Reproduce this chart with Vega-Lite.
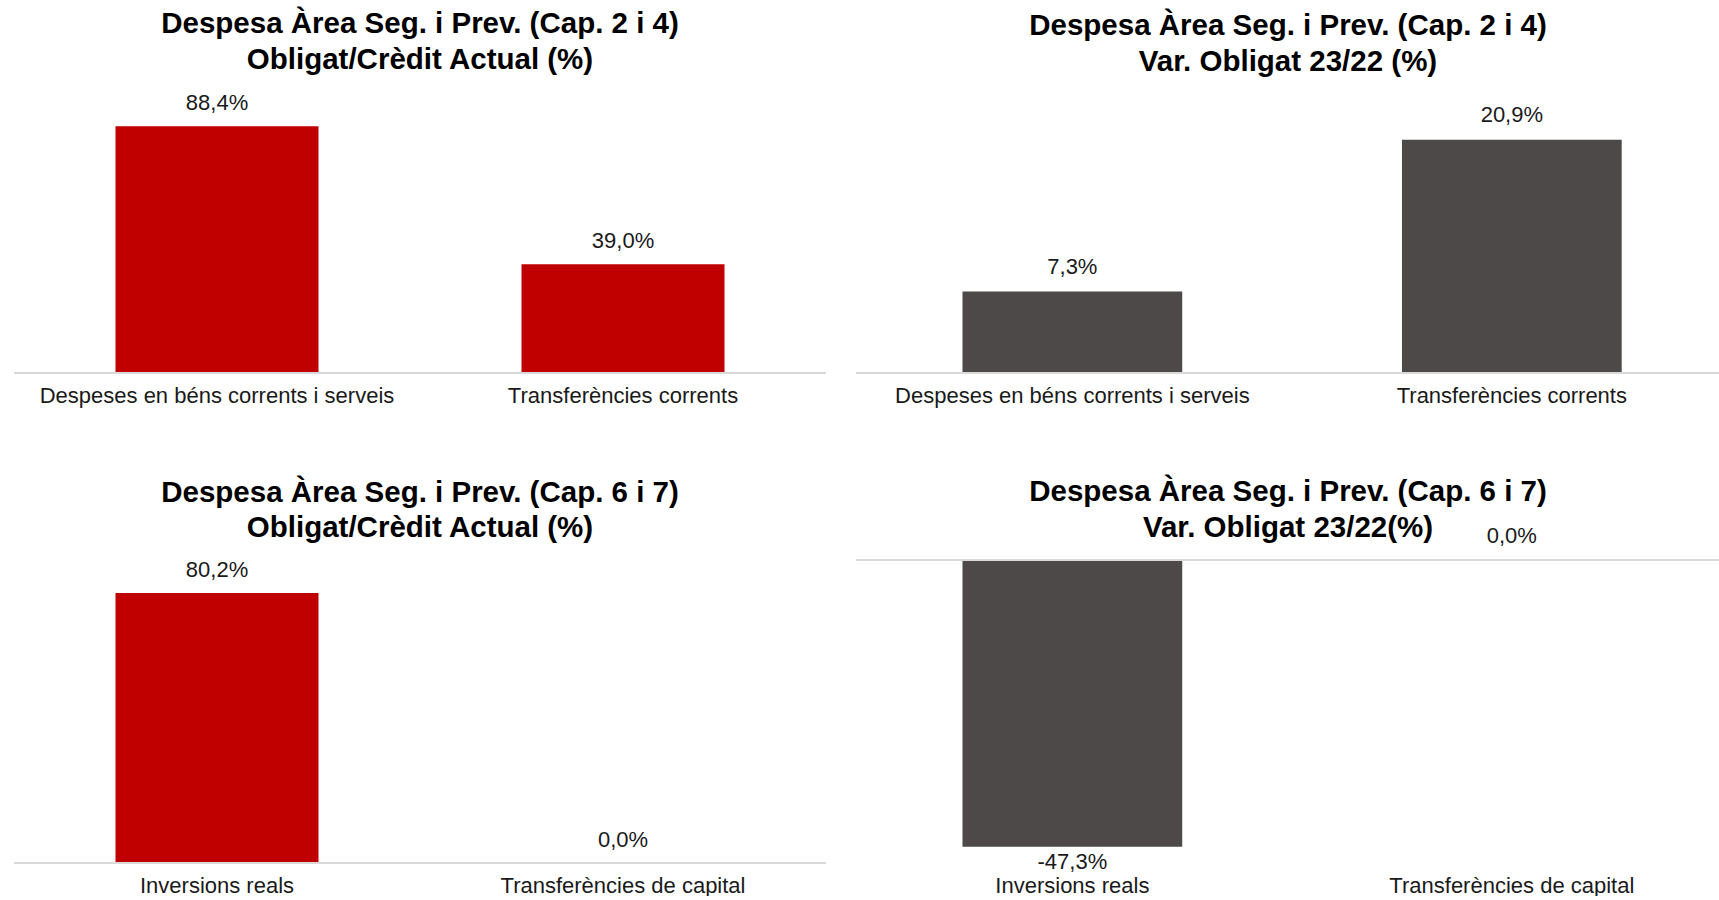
{
  "$schema": "https://vega.github.io/schema/vega-lite/v6.json",
  "background": "white",
  "padding": {"left": 13, "top": 9, "right": 0, "bottom": 0},
  "config": {
    "font": "Liberation Sans",
    "view": {"stroke": null},
    "locale": {"number": {"decimal": ",", "thousands": ".", "grouping": [3], "currency": ["", " €"], "minus": "-", "percent": "%"}},
    "title": {"font": "Liberation Sans", "fontSize": 29.5, "fontWeight": "bold", "color": "#000000", "lineHeight": 35.5, "anchor": "middle", "frame": "group"},
    "axisX": {"domain": false, "ticks": false, "grid": false, "labelAngle": 0, "labelFontSize": 22, "labelColor": "#1a1a1a", "labelPadding": 12, "labelLimit": 0, "title": null, "labelFont": "Liberation Sans"}
  },
  "columns": 2,
  "bounds": "flush",
  "align": "each",
  "spacing": {"column": 30, "row": 187},
  "concat": [
    {
      "width": 812,
      "height": 279,
      "title": {"text": ["Despesa Àrea Seg. i Prev. (Cap. 2 i 4)", "Obligat/Crèdit Actual (%)"], "offset": 17},
      "data": {"values": [
        {"categoria": "Despeses en béns corrents i serveis", "valor": 0.884},
        {"categoria": "Transferències corrents", "valor": 0.390}
      ]},
      "encoding": {
        "y": {"field": "valor", "type": "quantitative", "scale": {"domain": [0, 1]}, "axis": null}
      },
      "layer": [
        {"mark": {"type": "bar", "color": "#C00000"},
         "encoding": {"x": {"field": "categoria", "type": "nominal", "sort": null, "scale": {"paddingInner": 0.5, "paddingOuter": 0.25}}}},
        {"mark": {"type": "text", "baseline": "middle", "dy": -23, "fontSize": 22, "color": "#1a1a1a"},
         "encoding": {"x": {"field": "categoria", "type": "nominal", "sort": null}, "text": {"field": "valor", "type": "quantitative", "format": ".1%"}}},
        {"mark": {"type": "rule", "color": "#D9D9D9", "strokeWidth": 2},
         "encoding": {"y": {"datum": 0}}}
      ]
    },
    {
      "width": 864,
      "height": 279,
      "title": {"text": ["Despesa Àrea Seg. i Prev.  (Cap. 2 i 4)", "Var. Obligat 23/22 (%)"], "offset": 17},
      "data": {"values": [
        {"categoria": "Despeses en béns corrents i serveis", "valor": 0.073},
        {"categoria": "Transferències corrents", "valor": 0.209}
      ]},
      "encoding": {
        "y": {"field": "valor", "type": "quantitative", "scale": {"domain": [0, 0.25]}, "axis": null}
      },
      "layer": [
        {"mark": {"type": "bar", "color": "#4D4948"},
         "encoding": {"x": {"field": "categoria", "type": "nominal", "sort": null, "scale": {"paddingInner": 0.5, "paddingOuter": 0.233, "align": 0.52}}}},
        {"mark": {"type": "text", "baseline": "middle", "dy": -25, "fontSize": 22, "color": "#1a1a1a"},
         "encoding": {"x": {"field": "categoria", "type": "nominal", "sort": null}, "text": {"field": "valor", "type": "quantitative", "format": ".1%"}}},
        {"mark": {"type": "rule", "color": "#D9D9D9", "strokeWidth": 2},
         "encoding": {"y": {"datum": 0}}}
      ]
    },
    {
      "width": 812,
      "height": 303,
      "title": {"text": ["Despesa Àrea Seg. i Prev. (Cap. 6 i 7)", "Obligat/Crèdit Actual (%)"], "offset": 15},
      "data": {"values": [
        {"categoria": "Inversions reals", "valor": 0.802},
        {"categoria": "Transferències de capital", "valor": 0.0}
      ]},
      "encoding": {
        "y": {"field": "valor", "type": "quantitative", "scale": {"domain": [0, 0.9]}, "axis": null}
      },
      "layer": [
        {"mark": {"type": "bar", "color": "#C00000"},
         "encoding": {"x": {"field": "categoria", "type": "nominal", "sort": null, "scale": {"paddingInner": 0.5, "paddingOuter": 0.25}}}},
        {"mark": {"type": "text", "baseline": "middle", "dy": -23, "fontSize": 22, "color": "#1a1a1a"},
         "encoding": {"x": {"field": "categoria", "type": "nominal", "sort": null}, "text": {"field": "valor", "type": "quantitative", "format": ".1%"}}},
        {"mark": {"type": "rule", "color": "#D9D9D9", "strokeWidth": 2},
         "encoding": {"y": {"datum": 0}}}
      ]
    },
    {
      "width": 864,
      "height": 303,
      "title": {"text": ["Despesa Àrea Seg. i Prev.  (Cap. 6 i 7)", "Var. Obligat 23/22(%)"], "offset": -18},
      "data": {"values": [
        {"categoria": "Inversions reals", "valor": -0.473},
        {"categoria": "Transferències de capital", "valor": 0.0}
      ]},
      "encoding": {
        "y": {"field": "valor", "type": "quantitative", "scale": {"domain": [-0.5, 0]}, "axis": null}
      },
      "layer": [
        {"mark": {"type": "bar", "color": "#4D4948"},
         "encoding": {"x": {"field": "categoria", "type": "nominal", "sort": null, "scale": {"paddingInner": 0.5, "paddingOuter": 0.233, "align": 0.52}}}},
        {"transform": [{"filter": "datum.valor < 0"}],
         "mark": {"type": "text", "baseline": "middle", "dy": 15, "fontSize": 22, "color": "#1a1a1a"},
         "encoding": {"x": {"field": "categoria", "type": "nominal", "sort": null}, "text": {"field": "valor", "type": "quantitative", "format": ".1%"}}},
        {"transform": [{"filter": "datum.valor >= 0"}],
         "mark": {"type": "text", "baseline": "middle", "dy": -24, "fontSize": 22, "color": "#1a1a1a"},
         "encoding": {"x": {"field": "categoria", "type": "nominal", "sort": null}, "text": {"field": "valor", "type": "quantitative", "format": ".1%"}}},
        {"mark": {"type": "rule", "color": "#D9D9D9", "strokeWidth": 2},
         "encoding": {"y": {"datum": 0}}}
      ]
    }
  ]
}
